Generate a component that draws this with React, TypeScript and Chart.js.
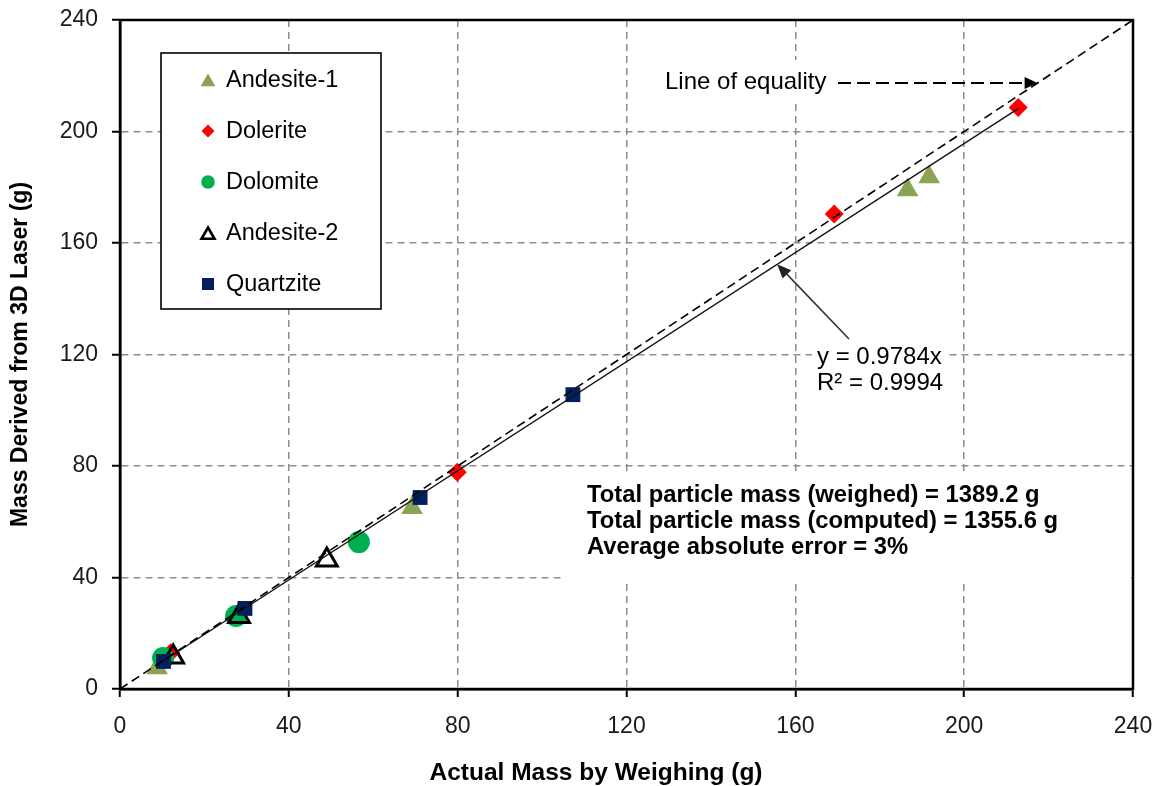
import React, { useEffect, useRef } from 'react';
import { Chart, registerables } from 'chart.js';

Chart.register(...registerables);

const FONT = '"Liberation Sans", Arial, Helvetica, sans-serif';

// ---------- data ----------
const axisTicks = [0, 40, 80, 120, 160, 200, 240];
const xAxisTitle = 'Actual Mass by Weighing (g)';
const yAxisTitle = 'Mass Derived from 3D Laser (g)';

const seriesNames = ['Andesite-1', 'Dolerite', 'Dolomite', 'Andesite-2', 'Quartzite'];

const andesite1X = [8.8, 69.2, 186.6, 191.7];
const andesite1Y = [7.5, 65.0, 179.0, 183.7];

const doleriteX = [12.0, 79.9, 169.2, 212.8];
const doleriteY = [13.0, 77.8, 170.4, 208.6];

const dolomiteX = [10.2, 27.5, 56.6];
const dolomiteY = [11.1, 26.2, 52.7];

const andesite2X = [12.6, 28.2, 49.0];
const andesite2Y = [11.5, 26.0, 46.3];

const quartziteX = [10.3, 29.6, 71.1, 107.3];
const quartziteY = [9.9, 28.9, 68.7, 105.6];

const equalityX = [0, 240];
const equalityY = [0, 240];

const trendSlope = 0.9784;
const trendR2 = 0.9994;
const trendX = [8.8, 212.8];
const trendY = [8.61, 208.2];

const equalityLabel = 'Line of equality';
const trendLabels = ['y = ' + trendSlope + 'x', 'R\u00B2 = ' + trendR2];
const statsLines = [
  'Total particle mass (weighed) = 1389.2 g',
  'Total particle mass (computed) = 1355.6 g',
  'Average absolute error = 3%',
];

// ---------- styles ----------
const COLORS = {
  andesite1: '#8BA353',
  dolerite: '#FF0000',
  dolomite: '#00B050',
  andesite2: '#000000',
  quartzite: '#002060',
};

const toPts = (xs: number[], ys: number[]) => xs.map((x, i) => ({ x, y: ys[i] }));

function drawMarker(
  ctx: CanvasRenderingContext2D,
  style: string,
  x: number,
  y: number,
  r: number,
  fill: string | null,
  stroke: string | null,
  lw: number
) {
  ctx.beginPath();
  if (style === 'triangle') {
    for (let i = 0; i < 3; i++) {
      const a = (i * 2 * Math.PI) / 3;
      const px = x + Math.sin(a) * r;
      const py = y - Math.cos(a) * r;
      if (i === 0) ctx.moveTo(px, py);
      else ctx.lineTo(px, py);
    }
    ctx.closePath();
  } else if (style === 'rectRot') {
    ctx.moveTo(x, y - r);
    ctx.lineTo(x + r, y);
    ctx.lineTo(x, y + r);
    ctx.lineTo(x - r, y);
    ctx.closePath();
  } else if (style === 'circle') {
    ctx.arc(x, y, r, 0, Math.PI * 2);
  } else {
    ctx.rect(x - r, y - r, 2 * r, 2 * r);
  }
  if (fill) {
    ctx.fillStyle = fill;
    ctx.fill();
  }
  if (stroke) {
    ctx.strokeStyle = stroke;
    ctx.lineWidth = lw;
    ctx.stroke();
  }
}

function arrowHead(ctx: CanvasRenderingContext2D, tx: number, ty: number, fx: number, fy: number, len: number, half: number) {
  const ang = Math.atan2(ty - fy, tx - fx);
  ctx.beginPath();
  ctx.moveTo(tx, ty);
  ctx.lineTo(tx - len * Math.cos(ang) + half * Math.sin(ang), ty - len * Math.sin(ang) - half * Math.cos(ang));
  ctx.lineTo(tx - len * Math.cos(ang) - half * Math.sin(ang), ty - len * Math.sin(ang) + half * Math.cos(ang));
  ctx.closePath();
  ctx.fill();
}

const overlayPlugin = {
  id: 'overlay',
  afterDatasetsDraw(chart: any) {
    const { ctx, chartArea: a, scales } = chart;
    const xs = scales.x;
    const ys = scales.y;
    ctx.save();
    ctx.setLineDash([]);

    // plot frame
    ctx.strokeStyle = '#000';
    ctx.lineWidth = 2.5;
    ctx.strokeRect(a.left, a.top, a.right - a.left, a.bottom - a.top);

    // white label boxes
    ctx.fillStyle = '#fff';
    ctx.fillRect(655, 60, 180, 44);
    ctx.fillRect(812, 343, 133, 54);
    ctx.fillRect(565, 472, a.right - 567, 111);

    // line of equality label + arrow
    ctx.fillStyle = '#000';
    ctx.font = `24px ${FONT}`;
    ctx.textBaseline = 'middle';
    ctx.textAlign = 'left';
    ctx.fillText(equalityLabel, 665, 82);
    const eqTipY = 217.4;
    const tipX = xs.getPixelForValue(eqTipY);
    const tipY = ys.getPixelForValue(eqTipY);
    ctx.strokeStyle = '#000';
    ctx.lineWidth = 1.8;
    ctx.setLineDash([13, 6]);
    ctx.beginPath();
    ctx.moveTo(838, tipY);
    ctx.lineTo(tipX - 12, tipY);
    ctx.stroke();
    ctx.setLineDash([]);
    arrowHead(ctx, tipX, tipY, 838, tipY, 13, 6);

    // trendline label + arrow
    ctx.fillText(trendLabels[0], 817, 357);
    ctx.fillText(trendLabels[1], 817, 383);
    const tx = 155.7;
    const ax = xs.getPixelForValue(tx);
    const ay = ys.getPixelForValue(tx * trendSlope);
    ctx.strokeStyle = '#333';
    ctx.fillStyle = '#222';
    ctx.lineWidth = 1.6;
    ctx.beginPath();
    ctx.moveTo(849, 339);
    ctx.lineTo(ax + 7, ay + 7);
    ctx.stroke();
    arrowHead(ctx, ax, ay, 849, 339, 14, 6);

    // stats text
    ctx.fillStyle = '#000';
    ctx.font = `bold 23.8px ${FONT}`;
    statsLines.forEach((t, i) => ctx.fillText(t, 587, 495 + i * 26));

    // legend
    ctx.fillStyle = '#fff';
    ctx.fillRect(161, 53, 220, 256);
    ctx.strokeStyle = '#000';
    ctx.lineWidth = 1.6;
    ctx.strokeRect(161, 53, 220, 256);
    const legendMarkers = [
      { style: 'triangle', r: 8.5, fill: COLORS.andesite1, stroke: null, lw: 0 },
      { style: 'rectRot', r: 6.5, fill: COLORS.dolerite, stroke: null, lw: 0 },
      { style: 'circle', r: 6.8, fill: COLORS.dolomite, stroke: null, lw: 0 },
      { style: 'triangle', r: 7.5, fill: null, stroke: COLORS.andesite2, lw: 2.6 },
      { style: 'rect', r: 6, fill: COLORS.quartzite, stroke: null, lw: 0 },
    ];
    ctx.font = `23.5px ${FONT}`;
    seriesNames.forEach((name, i) => {
      const cy = 80 + i * 51;
      const m = legendMarkers[i];
      const my = m.style === 'triangle' ? cy + 2 : cy;
      drawMarker(ctx, m.style, 208, my, m.r, m.fill, m.stroke, m.lw);
      ctx.fillStyle = '#000';
      ctx.textBaseline = 'middle';
      ctx.fillText(name, 226, cy + 1);
    });

    // x axis title (offset left of centre as in the original)
    ctx.font = `bold 24.5px ${FONT}`;
    ctx.textAlign = 'center';
    ctx.fillStyle = '#000';
    ctx.fillText(xAxisTitle, 596, 773);

    ctx.restore();
  },
};

const tickFont = { family: FONT, size: 23 };

export default function App() {
  const ref = useRef<HTMLCanvasElement>(null);

  useEffect(() => {
    if (!ref.current) return;
    const chart = new Chart(ref.current, {
      type: 'scatter',
      data: {
        datasets: [
          {
            label: 'Line of equality',
            data: toPts(equalityX, equalityY),
            showLine: true,
            borderColor: '#000',
            borderWidth: 1.6,
            borderDash: [9, 5],
            pointRadius: 0,
            order: -2,
          } as any,
          {
            label: 'Trend',
            data: toPts(trendX, trendY),
            showLine: true,
            borderColor: '#111',
            borderWidth: 1.4,
            pointRadius: 0,
            order: -1,
          },
          {
            label: seriesNames[0],
            data: toPts(andesite1X, andesite1Y),
            pointStyle: 'triangle',
            pointRadius: 12.5,
            backgroundColor: COLORS.andesite1,
            borderColor: COLORS.andesite1,
            borderWidth: 0,
            order: 4,
          },
          {
            label: seriesNames[1],
            data: toPts(doleriteX, doleriteY),
            pointStyle: 'rectRot',
            pointRadius: 9.5,
            backgroundColor: COLORS.dolerite,
            borderColor: COLORS.dolerite,
            borderWidth: 0,
            order: 3,
          },
          {
            label: seriesNames[2],
            data: toPts(dolomiteX, dolomiteY),
            pointStyle: 'circle',
            pointRadius: 11,
            backgroundColor: COLORS.dolomite,
            borderColor: COLORS.dolomite,
            borderWidth: 0,
            order: 2,
          },
          {
            label: seriesNames[3],
            data: toPts(andesite2X, andesite2Y),
            pointStyle: 'triangle',
            pointRadius: 12,
            backgroundColor: 'rgba(0,0,0,0)',
            borderColor: COLORS.andesite2,
            borderWidth: 3,
            order: 1,
          },
          {
            label: seriesNames[4],
            data: toPts(quartziteX, quartziteY),
            pointStyle: 'rect',
            pointRadius: 10.5,
            backgroundColor: COLORS.quartzite,
            borderColor: COLORS.quartzite,
            borderWidth: 0,
            order: 0,
          },
        ],
      },
      options: {
        responsive: false,
        devicePixelRatio: 1,
        animation: false,
        layout: { padding: { left: 0, top: 20, right: 26, bottom: 0 } },
        plugins: {
          legend: { display: false },
          tooltip: { enabled: false },
        },
        scales: {
          x: {
            type: 'linear',
            min: 0,
            max: 240,
            afterBuildTicks: (s: any) => {
              s.ticks = axisTicks.map((v) => ({ value: v }));
            },
            afterFit: (s: any) => {
              s.height = 97;
              s.paddingLeft = 0;
              s.paddingRight = 0;
            },
            ticks: { font: tickFont, color: '#1a1a1a', padding: 16, maxRotation: 0, autoSkip: false },
            grid: { color: '#8c8c8c', lineWidth: 1.5, tickColor: '#000', tickLength: 8, tickWidth: 2 },
            border: { display: true, color: '#000', width: 2.5, dash: [7, 5] },
            title: { display: false, text: xAxisTitle },
          },
          y: {
            type: 'linear',
            min: 0,
            max: 240,
            afterBuildTicks: (s: any) => {
              s.ticks = axisTicks.map((v) => ({ value: v }));
            },
            afterFit: (s: any) => {
              s.width = 120;
              s.paddingTop = 0;
              s.paddingBottom = 0;
            },
            ticks: { font: tickFont, color: '#1a1a1a', padding: 14, autoSkip: false },
            grid: { color: '#8c8c8c', lineWidth: 1.5, tickColor: '#000', tickLength: 8, tickWidth: 2 },
            border: { display: true, color: '#000', width: 2.5, dash: [7, 5] },
            title: {
              display: true,
              text: yAxisTitle,
              font: { family: FONT, size: 23, weight: 'bold' },
              color: '#000',
              padding: { top: 7, bottom: 0 },
            },
          },
        },
      },
      plugins: [overlayPlugin],
    } as any);
    return () => chart.destroy();
  }, []);

  return (
    <div style={{ position: 'fixed', left: 0, top: 0, width: 1159, height: 786, background: '#fff' }}>
      <canvas ref={ref} width={1159} height={786} style={{ display: 'block' }} />
    </div>
  );
}
